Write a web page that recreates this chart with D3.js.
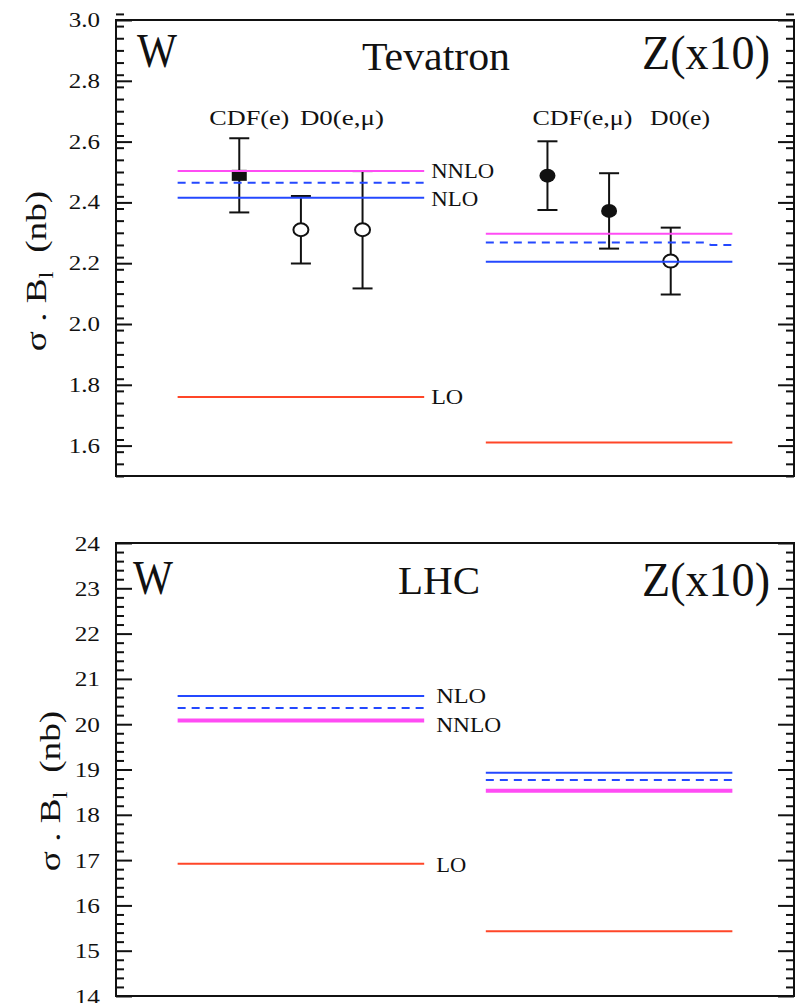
<!DOCTYPE html>
<html>
<head>
<meta charset="utf-8">
<script src="https://cdn.jsdelivr.net/npm/d3@7"></script>
<style>
  body { margin: 0; background: #fff; }
  text { font-family: "Liberation Serif", "Times New Roman", Times, serif; fill: #111; }
</style>
</head>
<body>
<svg id="chart" width="800" height="1003"></svg>
<script>
// ---- data ---------------------------------------------------------------
// Theory orders, in drawing order: LO, NLO, NLO (dashed variant), NNLO
const orderNames = ["LO", "NLO", "NLO-alt", "NNLO"];

// Tevatron  sigma.B_l (nb); Z values are multiplied by 10
const tevWTheory = [1.76, 2.415, 2.465, 2.503];
const tevZTheory = [1.61, 2.205, 2.268, 2.297];
// the dashed Z curve drops slightly at its right end
const tevZDashTailX = [9.55, 9.65];
const tevZDashTailVal = [2.268, 2.260];

// LHC  sigma.B_l (nb); Z values are multiplied by 10
const lhcWTheory = [16.92, 20.62, 20.36, 20.08];
const lhcZTheory = [15.43, 18.93, 18.77, 18.53];

// Tevatron measurements (x slot, value, symmetric error, marker)
const tevPointX = [2, 3, 4, 7, 8, 9];
const tevPointVal = [2.489, 2.31, 2.31, 2.488, 2.372, 2.207];
const tevPointErr = [0.122, 0.111, 0.193, 0.113, 0.124, 0.11];
const tevPointMarker = ["square", "open", "open", "filled", "filled", "open"];
const expLabels = ["CDF(e)", "D0(e,\u03bc)", "CDF(e,\u03bc)", "D0(e)"];

// axis ticks
const tevMajorTicks = [1.6, 1.8, 2.0, 2.2, 2.4, 2.6, 2.8, 3.0];
const lhcMajorTicks = [14, 15, 16, 17, 18, 19, 20, 21, 22, 23, 24];

// ---- layout -------------------------------------------------------------
const svg = d3.select("#chart");
const left = 116, right = 794;
const x = d3.scaleLinear().domain([0, 11]).range([left, right]);
const wSpan = [1, 5], zSpan = [6, 10];

const colors = { "LO": "#ff4628", "NLO": "#2448ff", "NLO-alt": "#2448ff", "NNLO": "#ff4cf4" };

function txt(g, str, px, py, size, width, opts = {}) {
  const t = g.append("text")
    .attr("x", px).attr("y", py)
    .attr("font-size", size)
    .text(str);
  if (width) t.attr("textLength", width).attr("lengthAdjust", "spacingAndGlyphs");
  if (opts.central) t.attr("dy", "0.35em");
  return t;
}

function yAxes(g, y, major, minorStep, fmt, labelSize, labelScale) {
  const [lo, hi] = y.domain();
  const n = Math.round((hi - lo) / minorStep);
  const minor = d3.range(0, n + 1).map(i => +(lo + i * minorStep).toFixed(4))
    .filter(v => !major.some(m => Math.abs(m - v) < 1e-6));
  const pad = 16 / labelScale;

  const style = s => s.call(a => a.select(".domain").remove())
    .selectAll(".tick line").attr("stroke", "#111").attr("stroke-width", 2);

  g.append("g").attr("transform", `translate(${left},0)`)
    .call(d3.axisLeft(y).tickValues(minor).tickSize(-8).tickFormat(""))
    .call(style);
  const la = g.append("g").attr("transform", `translate(${left},0)`)
    .call(d3.axisLeft(y).tickValues(major).tickSize(-16).tickPadding(pad).tickFormat(fmt))
    .call(style);
  la.selectAll(".tick text")
    .attr("font-family", '"Liberation Serif", "Times New Roman", serif')
    .attr("font-size", labelSize).attr("fill", "#111")
    .attr("transform", `scale(${labelScale},1)`);

  g.append("g").attr("transform", `translate(${right},0)`)
    .call(d3.axisRight(y).tickValues(minor).tickSize(-8).tickFormat(""))
    .call(style);
  g.append("g").attr("transform", `translate(${right},0)`)
    .call(d3.axisRight(y).tickValues(major).tickSize(-16).tickFormat(""))
    .call(style);
}

function frame(g, y) {
  const [y0, y1] = y.range();
  g.append("rect")
    .attr("x", left).attr("y", y1)
    .attr("width", right - left).attr("height", y0 - y1)
    .attr("fill", "none").attr("stroke", "#111").attr("stroke-width", 2);
}

function yTitle(g, cx, cy, size) {
  const t = g.append("text")
    .attr("transform", `translate(${cx},${cy}) rotate(-90) scale(1.24,1)`)
    .attr("text-anchor", "middle")
    .attr("font-size", size)
    .style("white-space", "pre");
  t.append("tspan").text("\u03c3 . B");
  t.append("tspan").attr("dy", size * 0.22).attr("font-size", size * 0.68).text("l");
  t.append("tspan").attr("dy", -size * 0.22).text("  (nb)");
}

function theoryLines(g, y, vals, span, widths, tail) {
  vals.forEach((v, i) => {
    const name = orderNames[i];
    let pts = [[span[0], v], [span[1], v]];
    if (name === "NLO-alt" && tail) {
      pts = [[span[0], v]].concat(tail.x.map((xx, k) => [xx, tail.v[k]]), [[span[1], tail.v[tail.v.length - 1]]]);
    }
    g.append("path")
      .attr("d", d3.line().x(d => x(d[0])).y(d => y(d[1]))(pts))
      .attr("fill", "none")
      .attr("stroke", colors[name])
      .attr("stroke-width", widths[i])
      .attr("stroke-dasharray", name === "NLO-alt" ? "8,6" : null);
  });
}

// ---- Tevatron panel -----------------------------------------------------
const yT = d3.scaleLinear().domain([1.5, 3.0]).range([476, 20]);
const gT = svg.append("g");
yAxes(gT, yT, tevMajorTicks, 0.04, d3.format(".1f"), 20, 1.25);

// measurements
const pts = gT.append("g");
tevPointX.forEach((px, i) => {
  const cx = x(px), v = tevPointVal[i], e = tevPointErr[i];
  const eb = pts.append("g").attr("stroke", "#111").attr("stroke-width", 2);
  eb.append("line").attr("x1", cx).attr("x2", cx).attr("y1", yT(v + e)).attr("y2", yT(v - e));
  [v + e, v - e].forEach(ev => eb.append("line")
    .attr("x1", cx - 10).attr("x2", cx + 10).attr("y1", yT(ev)).attr("y2", yT(ev)));
  const m = tevPointMarker[i];
  if (m === "square") {
    pts.append("rect").attr("x", cx - 7.5).attr("y", yT(v) - 5.5)
      .attr("width", 15).attr("height", 11).attr("fill", "#111");
  } else if (m === "filled") {
    pts.append("ellipse").attr("cx", cx).attr("cy", yT(v)).attr("rx", 8).attr("ry", 7).attr("fill", "#111");
  } else {
    pts.append("ellipse").attr("cx", cx).attr("cy", yT(v)).attr("rx", 7.5).attr("ry", 6.5)
      .attr("fill", "#fff").attr("stroke", "#111").attr("stroke-width", 2);
  }
});

theoryLines(gT, yT, tevWTheory, wSpan, [2, 2, 2, 2]);
theoryLines(gT, yT, tevZTheory, zSpan, [2, 2, 2, 2], { x: tevZDashTailX, v: tevZDashTailVal });

frame(gT, yT);

txt(gT, "W", 137, 67, 48, 40);
txt(gT, "Tevatron", 362, 70, 40, 148);
txt(gT, "Z(x10)", 642, 69, 48, 128);
txt(gT, expLabels[0], x(2) - 30, 125, 22, 80);
txt(gT, expLabels[1], x(3) - 1, 125, 22, 84);
txt(gT, expLabels[2], x(7) - 15, 125, 22, 100);
txt(gT, expLabels[3], x(8) + 41, 125, 22, 60);
txt(gT, "NNLO", x(wSpan[1]) + 7, yT(tevWTheory[3]), 20, 63, { central: true });
txt(gT, "NLO", x(wSpan[1]) + 7, yT(tevWTheory[1]) + 1, 20, 47, { central: true });
txt(gT, "LO", x(wSpan[1]) + 7, yT(tevWTheory[0]), 20, 32, { central: true });
yTitle(gT, 46, 271, 30);

// ---- LHC panel ----------------------------------------------------------
const yL = d3.scaleLinear().domain([14, 24]).range([996, 543]);
const gL = svg.append("g");
yAxes(gL, yL, lhcMajorTicks, 0.2, d3.format("d"), 22, 1.15);

theoryLines(gL, yL, lhcWTheory, wSpan, [2, 2, 2, 4]);
theoryLines(gL, yL, lhcZTheory, zSpan, [2, 2, 2, 4]);

frame(gL, yL);

txt(gL, "W", 133, 594, 48, 40);
txt(gL, "LHC", 398, 594, 40, 82);
txt(gL, "Z(x10)", 642, 596, 48, 128);
txt(gL, "NLO", x(wSpan[1]) + 12, yL(lhcWTheory[1]), 21, 50, { central: true });
txt(gL, "NNLO", x(wSpan[1]) + 12, yL(lhcWTheory[3]) + 4, 21, 65, { central: true });
txt(gL, "LO", x(wSpan[1]) + 12, yL(lhcWTheory[0]) + 1, 21, 30, { central: true });
yTitle(gL, 60, 791, 30);
</script>
</body>
</html>
